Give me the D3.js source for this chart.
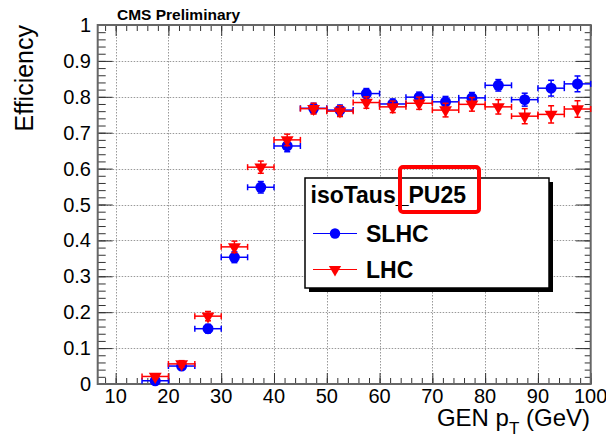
<!DOCTYPE html>
<html><head><meta charset="utf-8">
<script src="https://cdn.jsdelivr.net/npm/d3@7"></script>
<style>body{margin:0;background:#fff}svg{display:block}text{font-family:"Liberation Sans",Arial,sans-serif}</style>
</head><body>
<script>
const ptCenters = [17.5,22.5,27.5,32.5,37.5,42.5,47.5,52.5,57.5,62.5,67.5,72.5,77.5,82.5,87.5,92.5,97.5];
const binHalfWidth = 2.5;
const slhcEff = [0.009,0.050,0.154,0.353,0.548,0.663,0.768,0.763,0.809,0.780,0.799,0.786,0.797,0.832,0.792,0.824,0.836];
const slhcErr = [0.005,0.008,0.012,0.015,0.016,0.016,0.014,0.014,0.014,0.014,0.014,0.015,0.015,0.016,0.018,0.022,0.022];
const lhcEff = [0.021,0.056,0.189,0.382,0.604,0.680,0.767,0.760,0.784,0.772,0.782,0.763,0.779,0.772,0.746,0.751,0.766];
const lhcErr = [0.006,0.009,0.013,0.016,0.017,0.016,0.015,0.015,0.016,0.016,0.017,0.019,0.019,0.020,0.021,0.024,0.023];
const xTicks = [10,20,30,40,50,60,70,80,90,100];
const yTicks = [0,0.1,0.2,0.3,0.4,0.5,0.6,0.7,0.8,0.9,1];
const legendTitle = "isoTaus_PU25";
const seriesNames = ["SLHC","LHC"];

const W=606,H=441;
const svg=d3.select("body").append("svg").attr("width",W).attr("height",H);
const x=d3.scaleLinear().domain([6.6,100]).range([97.7,590.7]);
const y=d3.scaleLinear().domain([0,1]).range([384,25]);
const [x0,x1]=x.range(), [y0,y1]=y.range();

// grid
const grid=svg.append("g").attr("stroke","#999").attr("stroke-width",1).attr("stroke-dasharray","1.5,1.5");
xTicks.forEach(t=>{ if(t<100) grid.append("line").attr("x1",Math.round(x(t))+0.5).attr("x2",Math.round(x(t))+0.5).attr("y1",y1).attr("y2",y0);});
yTicks.forEach(t=>{ if(t>0&&t<1) grid.append("line").attr("y1",Math.round(y(t))+0.5).attr("y2",Math.round(y(t))+0.5).attr("x1",x0).attr("x2",x1);});

// axes with D3
const xMinor=d3.range(8,100.1,2);
const yMinor=d3.range(0,1.0001,0.02);
function tickless(g){g.select(".domain").remove();}
function addAxis(axis,tr){
  svg.append("g").attr("transform",tr).call(axis).call(tickless).selectAll("line").attr("stroke","#333");
}
addAxis(d3.axisTop(x).tickValues(xMinor).tickSize(6).tickFormat(""),`translate(0,${y0})`);
addAxis(d3.axisTop(x).tickValues(xTicks).tickSize(11).tickFormat(""),`translate(0,${y0})`);
addAxis(d3.axisBottom(x).tickValues(xMinor).tickSize(6).tickFormat(""),`translate(0,${y1})`);
addAxis(d3.axisBottom(x).tickValues(xTicks).tickSize(11).tickFormat(""),`translate(0,${y1})`);
addAxis(d3.axisRight(y).tickValues(yMinor).tickSize(8).tickFormat(""),`translate(${x0},0)`);
addAxis(d3.axisRight(y).tickValues(yTicks).tickSize(15).tickFormat(""),`translate(${x0},0)`);
addAxis(d3.axisLeft(y).tickValues(yMinor).tickSize(6).tickFormat(""),`translate(${x1},0)`);
addAxis(d3.axisLeft(y).tickValues(yTicks).tickSize(15).tickFormat(""),`translate(${x1},0)`);

// frame
svg.append("rect").attr("x",x0).attr("y",y1).attr("width",x1-x0).attr("height",y0-y1)
  .attr("fill","none").attr("stroke","#666").attr("stroke-width",2);

// tick labels
svg.append("g").selectAll("text").data(xTicks).join("text")
  .attr("x",d=>x(d)).attr("y",403).attr("text-anchor","middle").attr("font-size",20).text(d=>d);
svg.append("g").selectAll("text").data(yTicks).join("text")
  .attr("x",91).attr("y",d=>y(d)+7).attr("text-anchor","end").attr("font-size",20).text(d=>d3.format("~g")(d));

// titles
svg.append("text").attr("transform","translate(33,25) rotate(-90)").attr("text-anchor","end")
  .attr("font-size",25).text("Efficiency");
const xt=svg.append("text").attr("x",590).attr("y",426).attr("text-anchor","end").attr("font-size",24);
xt.append("tspan").text("GEN p");
xt.append("tspan").attr("font-size",17).attr("dy",8).text("T");
xt.append("tspan").attr("dy",-8).text(" (GeV)");
svg.append("text").attr("x",117).attr("y",20).attr("font-size",15.5).attr("font-weight","bold").text("CMS Preliminary");

// data
function drawSeries(vals,errs,color,symbolType,rot,size){
  const g=svg.append("g");
  const eg=g.append("g").attr("stroke",color).attr("stroke-width",1.5);
  ptCenters.forEach((c,i)=>{
    const xl=x(c-binHalfWidth), xr=x(c+binHalfWidth), yy=y(vals[i]);
    eg.append("line").attr("x1",xl).attr("x2",xr).attr("y1",yy).attr("y2",yy);
    eg.append("line").attr("x1",xl).attr("x2",xl).attr("y1",yy-3).attr("y2",yy+3);
    eg.append("line").attr("x1",xr).attr("x2",xr).attr("y1",yy-3).attr("y2",yy+3);
    const yt=y(vals[i]+errs[i]), yb=y(vals[i]-errs[i]);
    eg.append("line").attr("x1",x(c)).attr("x2",x(c)).attr("y1",yt).attr("y2",yb);
    eg.append("line").attr("x1",x(c)-3).attr("x2",x(c)+3).attr("y1",yt).attr("y2",yt);
    eg.append("line").attr("x1",x(c)-3).attr("x2",x(c)+3).attr("y1",yb).attr("y2",yb);
  });
  g.append("g").selectAll("path").data(ptCenters).join("path")
    .attr("d",d3.symbol().type(symbolType).size(size))
    .attr("transform",(d,i)=>`translate(${x(d)},${y(vals[i])}) rotate(${rot})`)
    .attr("fill",color);
}
drawSeries(slhcEff,slhcErr,"#0000ff",d3.symbolCircle,0,95);
drawSeries(lhcEff,lhcErr,"#ff0000",d3.symbolTriangle,180,72);

// legend
const lg=svg.append("g");
lg.append("rect").attr("x",309).attr("y",182).attr("width",244).attr("height",110).attr("fill","#000");
lg.append("rect").attr("x",305).attr("y",178).attr("width",244).attr("height",110).attr("fill","#fff").attr("stroke","#000").attr("stroke-width",1.5);
lg.append("text").attr("x",310.5).attr("y",203).attr("font-size",23).attr("font-weight","bold").text(legendTitle);
lg.append("rect").attr("x",400).attr("y",167).attr("width",79).attr("height",45).attr("rx",3)
  .attr("fill","none").attr("stroke","#ff0000").attr("stroke-width",4);
const entries=[{name:seriesNames[0],color:"#0000ff",sym:d3.symbolCircle,rot:0,size:85,yy:233.5},
               {name:seriesNames[1],color:"#ff0000",sym:d3.symbolTriangle,rot:180,size:65,yy:269.5}];
entries.forEach(e=>{
  lg.append("line").attr("x1",313).attr("x2",357).attr("y1",e.yy).attr("y2",e.yy).attr("stroke",e.color).attr("stroke-width",1);
  lg.append("path").attr("d",d3.symbol().type(e.sym).size(e.size)()).attr("transform",`translate(335,${e.yy}) rotate(${e.rot})`).attr("fill",e.color);
  lg.append("text").attr("x",366).attr("y",e.yy+8.5).attr("font-size",23).attr("font-weight","bold").text(e.name);
});
</script>
</body></html>
